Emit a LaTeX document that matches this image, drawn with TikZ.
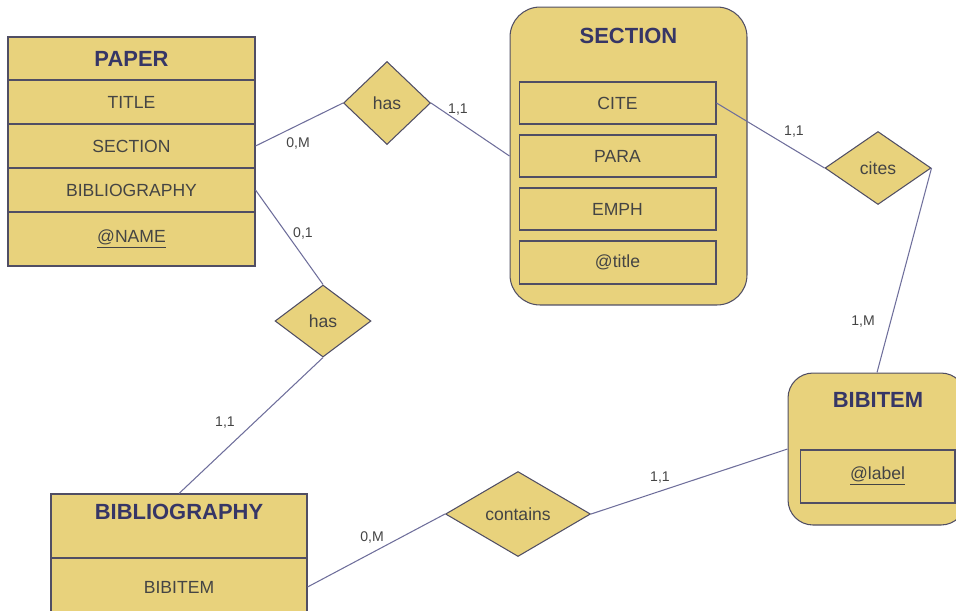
\documentclass[tikz,border=0pt]{standalone}
\usepackage{fontspec}
\setmainfont{Liberation Sans}
\usetikzlibrary{shapes.geometric}
\definecolor{erfill}{RGB}{232,210,124}
\definecolor{erborder}{RGB}{80,78,100}
\definecolor{erline}{RGB}{110,110,155}
\definecolor{ertitle}{RGB}{54,54,102}
\definecolor{ertext}{RGB}{68,68,68}
\tikzset{
  entity/.style={draw=erborder, fill=erfill, line width=0.6pt, inner sep=0pt},
  field/.style={entity, text=ertext, font=\fontsize{10}{12}\selectfont},
  heading/.style={text=ertitle, font=\fontsize{12.5}{14}\selectfont\bfseries},
  relation/.style={diamond, draw=erborder, fill=erfill, line width=0.6pt, inner sep=0pt, text=ertext, font=\fontsize{10}{12}\selectfont},
  link/.style={draw=erline, line width=0.6pt},
  card/.style={text=ertext, font=\fontsize{8}{10}\selectfont},
}
\begin{document}
\begin{tikzpicture}[x=0.02cm, y=-0.02cm]
    \useasboundingbox (0,0) rectangle (956,610);
    \clip (0,0) rectangle (956,610);
    % Draw the PAPER entity with its attributes.
    \node[field, minimum width=4.94cm, minimum height=0.86cm] (paper) at (131.5,58.5) {};
    \node[heading] at (paper) {PAPER};
    \node[field, minimum width=4.94cm, minimum height=0.88cm] (ptitle) at (131.5,102) {TITLE};
    \node[field, minimum width=4.94cm, minimum height=0.88cm] (psection) at (131.5,146) {SECTION};
    \node[field, minimum width=4.94cm, minimum height=0.88cm] (pbib) at (131.5,190) {BIBLIOGRAPHY};
    \node[field, minimum width=4.94cm, minimum height=1.08cm] (pname) at (131.5,239) {\underline{@NAME}};
    % Draw the SECTION entity (rounded) and its attributes.
    \node[entity, rounded corners=0.6cm, minimum width=4.74cm, minimum height=5.96cm] (sect) at (628.5,156) {};
    \node[heading] (sectname) at (628.5,36) {SECTION};
    \node[field, minimum width=3.94cm, minimum height=0.84cm] (scite) at (617.5,103) {CITE};
    \node[field, minimum width=3.94cm, minimum height=0.84cm] (spara) at (617.5,156) {PARA};
    \node[field, minimum width=3.94cm, minimum height=0.84cm] (semph) at (617.5,209) {EMPH};
    \node[field, minimum width=3.94cm, minimum height=0.86cm] (stitle) at (617.5,262.5) {@title};
    % Draw the BIBITEM entity, cut by the right margin.
    \node[entity, rounded corners=0.5cm, minimum width=3.56cm, minimum height=3.04cm] (bibitem) at (877,449) {};
    \node[heading] (bibitemname) at (878,400) {BIBITEM};
    \node[field, minimum width=3.1cm, minimum height=1.06cm] (blabel) at (877.5,476.5) {\underline{@label}};
    % Draw the BIBLIOGRAPHY entity, cut by the bottom margin.
    \node[field, minimum width=5.12cm, minimum height=1.28cm] (bibtop) at (179,526) {};
    \node[heading] (bibname) at (179,512) {BIBLIOGRAPHY};
    \node[field, minimum width=5.12cm, minimum height=1.16cm] (bibrow) at (179,587) {BIBITEM};
    % Draw the relationships.
    \node[relation, minimum width=1.74cm, minimum height=1.66cm] (has1) at (387,103) {has};
    \node[relation, minimum width=1.92cm, minimum height=1.44cm] (has2) at (323,321) {has};
    \node[relation, minimum width=2.12cm, minimum height=1.46cm] (cites) at (878,168) {cites};
    \node[relation, minimum width=2.9cm, minimum height=1.7cm] (contains) at (518,514) {contains};
    % Draw the links between entities and relationships.
    \draw[link] (psection.east) -- (has1.west);
    \draw[link] (has1.east) -- (sect.west);
    \draw[link] (scite.east) -- (cites.west);
    \draw[link] (cites.east) -- (bibitem.north);
    \draw[link] (pbib.east) -- (has2.north);
    \draw[link] (has2.south) -- (bibtop.north);
    \draw[link] (bibrow.east) -- (contains.west);
    \draw[link] (contains.east) -- (bibitem.west);
    % Draw the cardinalities.
    \node[card] (c1) at (298,143) {0,M};
    \node[card] (c2) at (458,110) {1,1};
    \node[card] (c3) at (794,132) {1,1};
    \node[card] (c4) at (863,322) {1,M};
    \node[card] (c5) at (303,233) {0,1};
    \node[card] (c6) at (225,423) {1,1};
    \node[card] (c7) at (372,537) {0,M};
    \node[card] (c8) at (660,478) {1,1};
  \end{tikzpicture}
\end{document}
